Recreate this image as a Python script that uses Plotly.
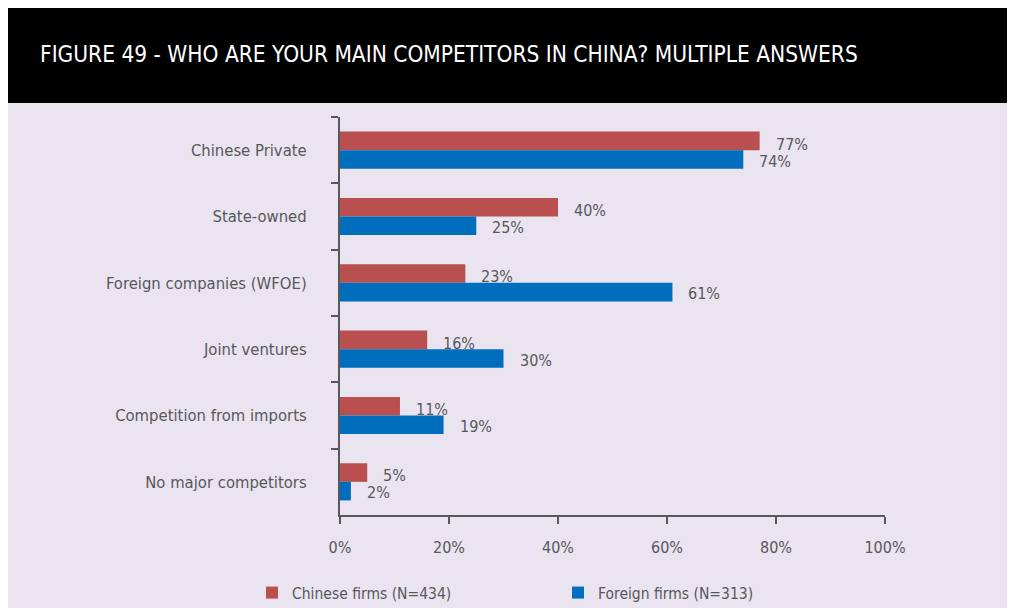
import plotly.graph_objects as go

categories = ["Chinese Private", "State-owned", "Foreign companies (WFOE)",
              "Joint ventures", "Competition from imports", "No major competitors"]
chinese_firms = [77, 40, 23, 16, 11, 5]
foreign_firms = [74, 25, 61, 30, 19, 2]
series_names = ["Chinese firms (N=434)", "Foreign firms (N=313)"]
x_ticks = [0, 20, 40, 60, 80, 100]
x_tick_labels = ["0%", "20%", "40%", "60%", "80%", "100%"]
title_text = "FIGURE 49 - WHO ARE YOUR MAIN COMPETITORS IN CHINA? MULTIPLE ANSWERS"

RED = "#B94F4E"
BLUE = "#006EBC"
GREY = "#58585A"
PANEL = "#E9E4EF"
FONT = "DejaVu Sans Condensed, Liberation Sans Narrow, Arial Narrow, sans-serif"

# the page body has an 8px margin; figure coordinates = page coordinates - 8
OFF = 8
W, H = 1015 - OFF, 608 - OFF
L, R, T, B = 340 - OFF, W - (885 - OFF), 117 - OFF, H - (515 - OFF)
pw, ph = W - L - R, H - T - B


def px_x(p):
    # p is in page pixels
    return (p - OFF - L) / pw


def px_y(p):
    return (H - B - (p - OFF)) / ph


fig = go.Figure()
fig.add_trace(go.Bar(y=categories, x=chinese_firms, orientation="h", name=series_names[0],
                     marker=dict(color=RED, line=dict(width=0))))
fig.add_trace(go.Bar(y=categories, x=foreign_firms, orientation="h", name=series_names[1],
                     marker=dict(color=BLUE, line=dict(width=0))))

annotations = []
for cat, v in zip(categories, chinese_firms):
    annotations.append(dict(x=v, y=cat, xref="x", yref="y", text=f"{v}%", showarrow=False,
                            xanchor="left", yanchor="middle", xshift=14, yshift=6,
                            font=dict(family=FONT, size=16, color=GREY)))
for cat, v in zip(categories, foreign_firms):
    annotations.append(dict(x=v, y=cat, xref="x", yref="y", text=f"{v}%", showarrow=False,
                            xanchor="left", yanchor="middle", xshift=14, yshift=-11,
                            font=dict(family=FONT, size=16, color=GREY)))

annotations.append(dict(x=px_x(38), y=px_y(54), xref="paper", yref="paper", text=title_text,
                        showarrow=False, xanchor="left", yanchor="middle",
                        font=dict(family=FONT, size=22.5, color="white")))

shapes = [
    dict(type="rect", xref="paper", yref="paper", x0=px_x(6), x1=px_x(1030),
         y0=px_y(103), y1=px_y(625), fillcolor=PANEL, line=dict(width=0), layer="below"),
    dict(type="rect", xref="paper", yref="paper", x0=px_x(6), x1=px_x(1030),
         y0=px_y(8), y1=px_y(103), fillcolor="black", line=dict(width=0), layer="below"),
]

fig.update_layout(
    width=W, height=H,
    margin=dict(l=L, r=R, t=T, b=B, autoexpand=False),
    paper_bgcolor="white", plot_bgcolor=PANEL,
    barmode="group", bargap=0.44, bargroupgap=0,
    font=dict(family=FONT, size=16, color=GREY),
    showlegend=True,
    legend=dict(orientation="h", x=px_x(252), y=px_y(593), xanchor="left", yanchor="middle",
                entrywidth=261, font=dict(family=FONT, size=15.5, color=GREY),
                bgcolor="rgba(0,0,0,0)", traceorder="normal"),
    annotations=annotations,
    shapes=shapes,
    xaxis=dict(range=[0, 100], tickvals=x_ticks, ticktext=x_tick_labels, showgrid=False,
               zeroline=False, showline=True, linecolor=GREY, linewidth=2, ticks="outside",
               ticklen=7, tickwidth=2, tickcolor=GREY, ticklabelstandoff=10,
               tickfont=dict(family=FONT, size=16, color=GREY), fixedrange=True,
               automargin=False),
    yaxis=dict(autorange="reversed", showgrid=False, zeroline=False, showline=True,
               linecolor=GREY, linewidth=2, ticks="outside", ticklen=7, tickwidth=2,
               tickcolor=GREY, tickson="boundaries", ticklabelstandoff=28,
               tickfont=dict(family=FONT, size=16.5, color=GREY), automargin=False),
)

fig.write_html("out.html")
